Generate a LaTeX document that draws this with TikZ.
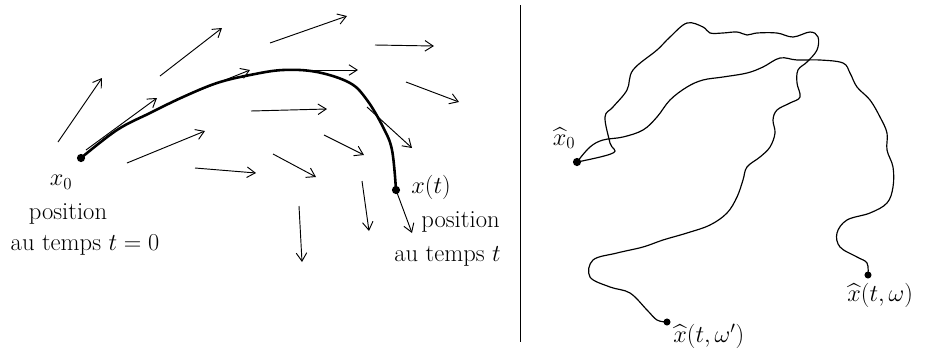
\documentclass[tikz,border=0pt]{standalone}
\usepackage{amsmath,amssymb}
\usetikzlibrary{arrows.meta,calc,positioning}

\begin{document}
\begin{tikzpicture}[x=0.03cm,y=-0.03cm,>={Straight Barb[length=7pt,width=9pt]},
  dot/.style={circle,fill,inner sep=0pt,minimum size=7pt},
  lbl/.style={font=\fontsize{21}{24}\selectfont,inner sep=1pt},
  vec/.style={->,line width=0.8pt},
  walk/.style={line width=1pt,line join=round}]
  \useasboundingbox (0,0) rectangle (941,352);
  % Vector field
  \foreach \ax/\ay/\bx/\by in {58/142/102/78, 160/76/222/28, 270/43/347/16,
      375/45/434/46, 406/82/459/102, 86/150/157/98, 175/100/250/70,
      310/70/358/70, 367/107/412/148, 127/163/205/131, 251/111/327/109,
      195/168/256/173, 273/154/316/177, 324/135/364/155, 299/206/302/262,
      362/181/369/231, 396/190/412/233}
    \draw[vec] (\ax,\ay) -- (\bx,\by);
  % Deterministic trajectory
  \node[dot] (x0) at (81,158) {};
  \node[dot] (xt) at (396,190) {};
  \draw[line width=2.2pt,line cap=round] plot[smooth,tension=0.6] coordinates {(x0) (117,130)
    (150,113) (183,97) (217,83) (250,75) (283,70) (317,72) (350,83) (367,100)
    (383,127) (392,150) (xt)};
  \node[lbl] (x0lbl) at (61,182) {$x_0$};
  \node[lbl] (x0pos) at (68,214) {position};
  \node[lbl] (x0time) at (85,245) {au temps $t=0$};
  \node[lbl,anchor=west] (xtlbl) at (410,187) {$x(t)$};
  \node[lbl,anchor=west] (xtpos) at (420,222) {position};
  \node[lbl,anchor=west] (xttime) at (393,256) {au temps $t$};
  % Separation
  \coordinate (sepa) at (520,5);
  \coordinate (sepb) at (520,342);
  \draw[line width=0.6pt] (sepa) -- (sepb);
  % Random trajectories
  \node[dot] (y0) at (577,162) {};
  \node[dot,minimum size=6pt] (yw) at (868,275) {};
  \node[dot,minimum size=6pt] (ywp) at (667,322) {};
  \draw[walk] plot[smooth,tension=0.6] coordinates {(y0) (613,153) (610,143)
    (605,117) (613,107) (627,90) (633,70) (657,50) (670,37) (687,23) (703,27)
    (710,33) (723,33) (737,32) (747,35) (757,33) (777,33) (793,37) (810,32)
    (818,37) (817,50) (807,62) (798,70) (797,83) (800,97) (790,103) (777,110)
    (773,120) (775,133) (770,147) (760,157) (747,167) (743,180) (737,197)
    (727,213) (710,225) (687,233) (663,240) (643,247) (617,253) (593,260)
    (590,277) (610,287) (630,293) (647,310) (657,320) (ywp)};
  \draw[walk] plot[smooth,tension=0.6] coordinates {(y0) (590,147) (603,140)
    (623,137) (643,130) (657,117) (670,100) (687,87) (703,80) (723,77)
    (747,73) (763,67) (780,58) (797,60) (820,60) (843,63) (850,73) (857,87)
    (870,100) (880,117) (887,133) (887,150) (893,167) (893,187) (887,203)
    (870,213) (847,220) (837,233) (840,247) (857,257) (867,263) (yw)};
  \node[lbl] (y0lbl) at (564,138) {$\widehat{x}_0$};
  \node[lbl,anchor=west] (ywplbl) at (672,336) {$\widehat{x}(t,\omega')$};
  \node[lbl,anchor=west] (ywlbl) at (846,295) {$\widehat{x}(t,\omega)$};
\end{tikzpicture}
\end{document}
